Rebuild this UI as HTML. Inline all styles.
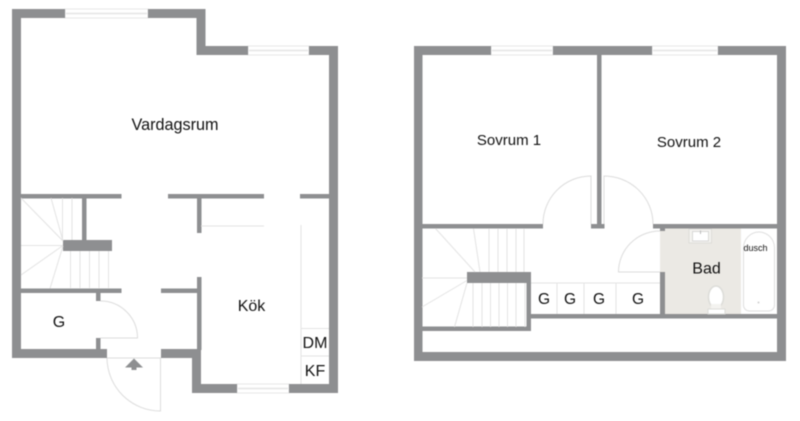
<!DOCTYPE html>
<html lang="sv">
<head>
<meta charset="utf-8">
<title>Planritning</title>
<style>
html,body{margin:0;padding:0;background:#fff;width:800px;height:421px;overflow:hidden}
svg{display:block;filter:blur(.45px)}
.w{fill:#8e8f91}
.l{stroke:#e3e3e3;stroke-width:1;fill:none}
.d{stroke:#dcdcdc;stroke-width:1;fill:none}
text{font-family:"Liberation Sans",sans-serif;fill:#111;text-anchor:middle}
</style>
</head>
<body>
<svg width="800" height="421" viewBox="0 0 800 421" xmlns="http://www.w3.org/2000/svg">
<rect width="800" height="421" fill="#fff"/>

<!-- Window frames -->
<g fill="#fff" stroke="#e6e6e6" stroke-width="1">
<rect x="65" y="9" width="83" height="9"/>
<rect x="248" y="46" width="61" height="9"/>
<rect x="237" y="384" width="52" height="9"/>
<rect x="491" y="46" width="62" height="9"/>
<rect x="652" y="46" width="66" height="9"/>
</g>
<g stroke="#e4e4e4" stroke-width="1.4">
<path d="M66 13.5H147M249 50.5H308M238 388.5H288M492 50.5H552M653 50.5H717"/>
</g>

<!-- Ground floor: walls -->
<g class="w">
<rect x="12" y="9" width="9" height="349"/>
<rect x="12" y="9" width="53" height="9"/>
<rect x="148" y="9" width="57.500" height="9"/>
<rect x="196.500" y="9" width="9" height="46"/>
<rect x="196.500" y="46" width="51.500" height="9"/>
<rect x="309" y="46" width="29" height="9"/>
<rect x="329" y="46" width="9" height="347"/>
<rect x="12" y="349" width="95" height="9"/>
<rect x="161" y="349" width="40" height="9"/>
<rect x="192" y="349" width="9" height="44"/>
<rect x="192" y="384" width="45" height="9"/>
<rect x="289" y="384" width="49" height="9"/>
<rect x="21" y="194" width="100.500" height="4.500"/>
<rect x="168" y="194" width="96" height="4.500"/>
<rect x="300" y="194" width="29" height="4.500"/>
<rect x="197" y="198" width="4.500" height="35"/>
<rect x="197" y="277" width="4.500" height="73"/>
<rect x="161" y="288.500" width="37" height="4.500"/>
<rect x="82" y="198" width="4.500" height="43"/>
<rect x="63" y="240" width="49" height="11"/>
<rect x="21" y="288.500" width="100.500" height="4.500"/>
<rect x="96" y="293" width="4.500" height="8"/>
<rect x="96" y="338" width="4.500" height="11"/>
</g>

<!-- Ground floor: stairs -->
<path class="l" d="M62.500 198V240M72 198V240M70.500 251V288M80 251V288M89.500 251V288M99 251V288M108.500 251V288M21 198L63 241M51 198L63 241M21 245.500H63M21 275L63 245.500M50 288.500L63 246"/>

<!-- Ground floor: doors -->
<path class="d" d="M100.500 301A37 37 0 0 1 137.500 338H100.500"/>
<path class="d" d="M107 358H160.500V411A53.500 53.500 0 0 1 107 358"/>

<!-- Entrance arrow -->
<path d="M134 358.500L143 367.500H136.500V370H131.500V367.500H125Z" fill="#8e8f91"/>

<!-- Kitchen -->
<path class="l" d="M201 226H264M301 225V384M301 328.500H329M301 356H329"/>

<!-- Ground floor labels -->
<text x="175" y="130" font-size="16.200">Vardagsrum</text>
<text x="59" y="327" font-size="16">G</text>
<text x="251.500" y="311" font-size="16">Kök</text>
<text x="315" y="348" font-size="16">DM</text>
<text x="315" y="376" font-size="16">KF</text>

<!-- Upper floor: bath -->
<rect x="660" y="228" width="81" height="86" fill="#ebe9e4"/>

<!-- Upper floor: walls -->
<g class="w">
<rect x="414" y="46" width="8.500" height="315"/>
<rect x="414" y="46" width="77" height="9"/>
<rect x="553" y="46" width="99" height="9"/>
<rect x="718" y="46" width="68" height="9"/>
<rect x="777" y="46" width="9" height="315"/>
<rect x="414" y="352" width="372" height="9"/>
<rect x="597" y="55" width="4.500" height="170"/>
<rect x="422" y="224" width="121" height="4.500"/>
<rect x="591" y="224" width="13.500" height="4.500"/>
<rect x="653" y="224" width="124" height="4.500"/>
<rect x="660" y="228" width="5" height="3"/>
<rect x="660" y="272" width="5" height="46"/>
<rect x="530" y="314" width="247" height="4.500"/>
<rect x="422" y="326.500" width="108.500" height="4.500"/>
<rect x="526.500" y="272" width="4.500" height="59"/>
<rect x="467" y="272" width="64" height="11"/>
</g>

<!-- Upper floor: stairs -->
<path class="l" d="M489 229V272M498 229V272M507 229V272M516 229V272M524 229V272M473 283V327M482 283V327M490.500 283V327M499 283V327M507.500 283V327M516 283V327M525 283V327M435.500 228.500L475 272M473.500 228.500L480 272M422 278H467M422 307L467 280.500M454.500 327L467 283"/>

<!-- Upper floor: storage -->
<path class="l" d="M531 283H660M557 283V314M584 283V314M616 283V314"/>

<!-- Upper floor: doors -->
<path class="d" d="M543 224A48 48 0 0 1 591 176V224"/>
<path class="d" d="M604 224V176A49 48 0 0 1 653 224"/>
<path class="d" d="M660 231A41.500 41 0 0 0 618.500 272H660"/>

<!-- Sink -->
<rect x="689" y="229" width="22.500" height="14" fill="#f4f3f0" stroke="#dddcd8"/>
<rect x="692.500" y="231.500" width="16" height="9.500" fill="#fff" stroke="#d8d8d6"/>
<path d="M700.500 230.500V234" stroke="#bbb" stroke-width="1"/>

<!-- Toilet -->
<ellipse cx="716" cy="297" rx="7.500" ry="11" fill="#fff" stroke="#dcdcd8" stroke-width="1.500"/>
<rect x="711" y="304" width="10" height="5" fill="#f4f3f0"/>
<rect x="708" y="309" width="17" height="5" fill="#fff" stroke="#dcdcd8"/>

<!-- Shower tub -->
<path d="M743.500 248A15.500 16 0 0 1 774.500 248V305A6 6 0 0 1 768.500 311H749.500A6 6 0 0 1 743.500 305Z" fill="#fff" stroke="#dedede" stroke-width="1"/>
<circle cx="758.500" cy="302.500" r="1" fill="#cfcfcf"/>

<!-- Upper floor labels -->
<text x="509" y="145" font-size="15">Sovrum 1</text>
<text x="689" y="147" font-size="15">Sovrum 2</text>
<text x="706.500" y="273.500" font-size="16">Bad</text>
<text x="755.500" y="251" font-size="9" fill="#000">dusch</text>
<text x="544" y="304" font-size="15.500">G</text>
<text x="570" y="304" font-size="15.500">G</text>
<text x="599" y="304" font-size="15.500">G</text>
<text x="638" y="304" font-size="15.500">G</text>
</svg>
</body>
</html>
